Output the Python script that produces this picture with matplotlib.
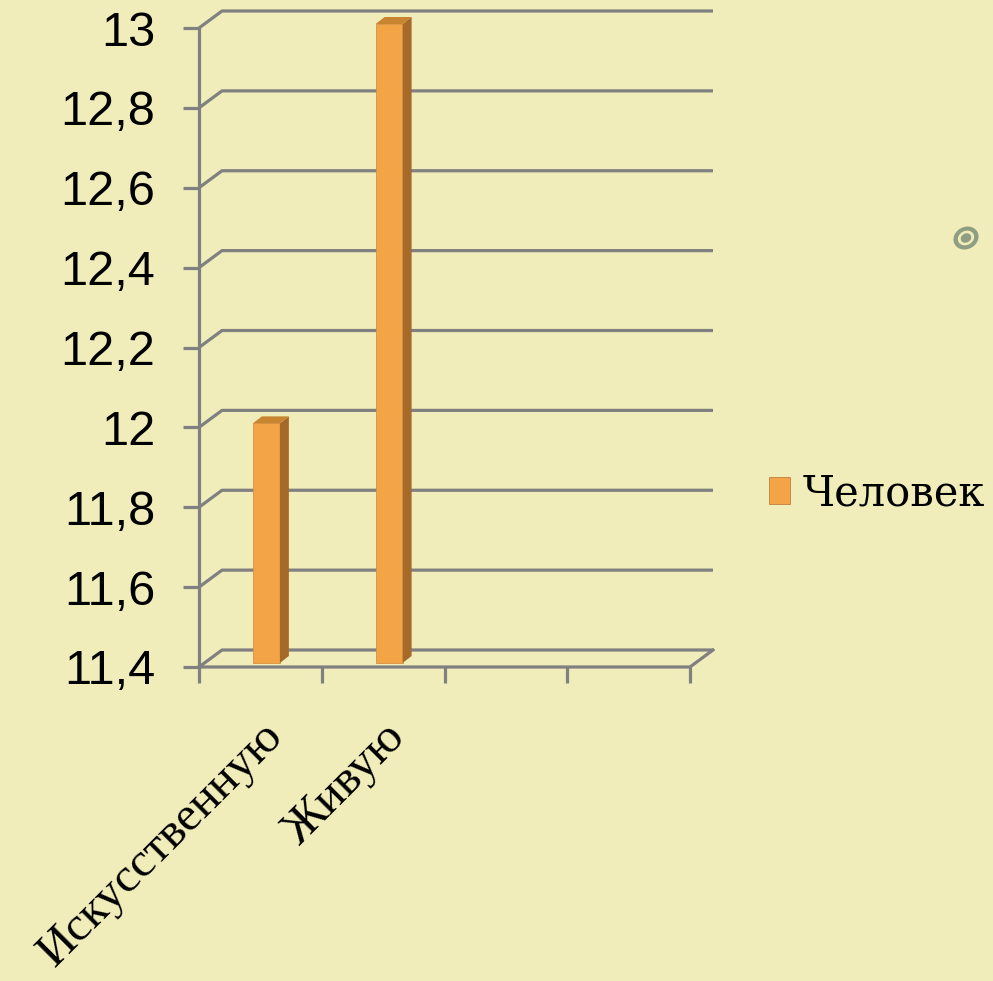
import matplotlib
matplotlib.use('Agg')
import matplotlib.pyplot as plt
from matplotlib.patches import Polygon, Ellipse
import matplotlib.transforms as mtransforms

# данные
categories = ['Искусственную', 'Живую']
values = [12, 13]
series_name = 'Человек'
y_ticks = [11.4, 11.6, 11.8, 12, 12.2, 12.4, 12.6, 12.8, 13]
y_labels = ['11,4', '11,6', '11,8', '12', '12,2', '12,4', '12,6', '12,8', '13']
n_slots = 4

bg = '#F1EDBA'
grid_c = '#808080'
front_c = '#F2A447'
side_c = '#A5692A'
top_c = '#C8852F'

W, H = 993, 981
fig = plt.figure(figsize=(W / 100, H / 100), dpi=100, facecolor=bg)
ax = fig.add_axes([199 / W, (H - 667) / H, 491 / W, 639 / H])
ax.set_facecolor(bg)
ax.set_xlim(0, n_slots)
ax.set_ylim(y_ticks[0], y_ticks[-1])
for s in ax.spines.values():
    s.set_visible(False)

# смещение задней стенки (псевдо-3D)
px_x = n_slots / 491
px_y = (y_ticks[-1] - y_ticks[0]) / 639
wx, wy = 23 * px_x, 17 * px_y
lw = 2.3

for v in y_ticks:
    ax.plot([0, wx, n_slots + wx], [v, v + wy, v + wy], color=grid_c, lw=lw, clip_on=False,
            solid_capstyle='butt', zorder=1)
# пол и левая ось
y0 = y_ticks[0]
ax.plot([0, n_slots, n_slots + wx], [y0, y0, y0 + wy], color=grid_c, lw=lw, clip_on=False, zorder=1)
ax.plot([0, 0], [y0, y_ticks[-1]], color=grid_c, lw=lw, clip_on=False, zorder=1)

# столбцы
dx, dy = 9 * px_x, 7 * px_y
width = 27 * px_x
off = mtransforms.offset_copy(ax.transData, fig=fig, x=6, y=4, units='dots')
for i, v in enumerate(values):
    x0 = i + 0.5 - width / 2
    x1 = x0 + width
    ax.bar(i + 0.5, v - y0, width=width, bottom=y0, color=front_c, edgecolor='#D89040',
           lw=0.6, transform=off, zorder=3, clip_on=False)
    ax.add_patch(Polygon([(x1, y0), (x1 + dx, y0 + dy), (x1 + dx, v + dy), (x1, v)],
                         closed=True, fc=side_c, ec='none', transform=off, zorder=3, clip_on=False))
    ax.add_patch(Polygon([(x0, v), (x0 + dx, v + dy), (x1 + dx, v + dy), (x1, v)],
                         closed=True, fc=top_c, ec='none', transform=off, zorder=3, clip_on=False))

# оси
ax.set_yticks(y_ticks)
ax.set_yticklabels(y_labels, fontsize=35, family='Liberation Sans')
ax.tick_params(axis='y', length=11.5, width=lw, color=grid_c, pad=20)
ax.set_xticks(range(n_slots + 1))
ax.set_xticklabels([])
ax.tick_params(axis='x', which='major', length=11.5, width=lw, color=grid_c)
ax.set_xticks([i + 0.5 for i in range(len(categories))], minor=True)
ax.set_xticklabels(categories, minor=True, rotation=45, ha='right', va='top',
                   rotation_mode='anchor', fontsize=35, family='Liberation Serif')
ax.tick_params(axis='x', which='minor', length=0, pad=34)

# легенда
h = plt.Rectangle((0, 0), 1, 1, fc=front_c, ec='#C08040', lw=0.6)
fig.legend([h], [series_name], loc='center left', bbox_to_anchor=(769 / W, 1 - 493 / H),
           frameon=False, prop={'family': 'DejaVu Serif', 'size': 30},
           handlelength=0.5, handleheight=0.62, handletextpad=0.3, borderpad=0, borderaxespad=0)

# декоративный значок
fig.add_artist(Ellipse((966 / W, 1 - 238 / H), 26 / W, 22 / H, angle=30, fc='#8F9E82', ec='none'))
fig.add_artist(Ellipse((966 / W, 1 - 238 / H), 17 / W, 14 / H, angle=30, fc=bg, ec='none'))
fig.add_artist(Ellipse((966 / W, 1 - 238 / H), 11 / W, 9 / H, angle=30, fc='#8F9E82', ec='none'))

fig.savefig('out.png', dpi=100, facecolor=bg)
